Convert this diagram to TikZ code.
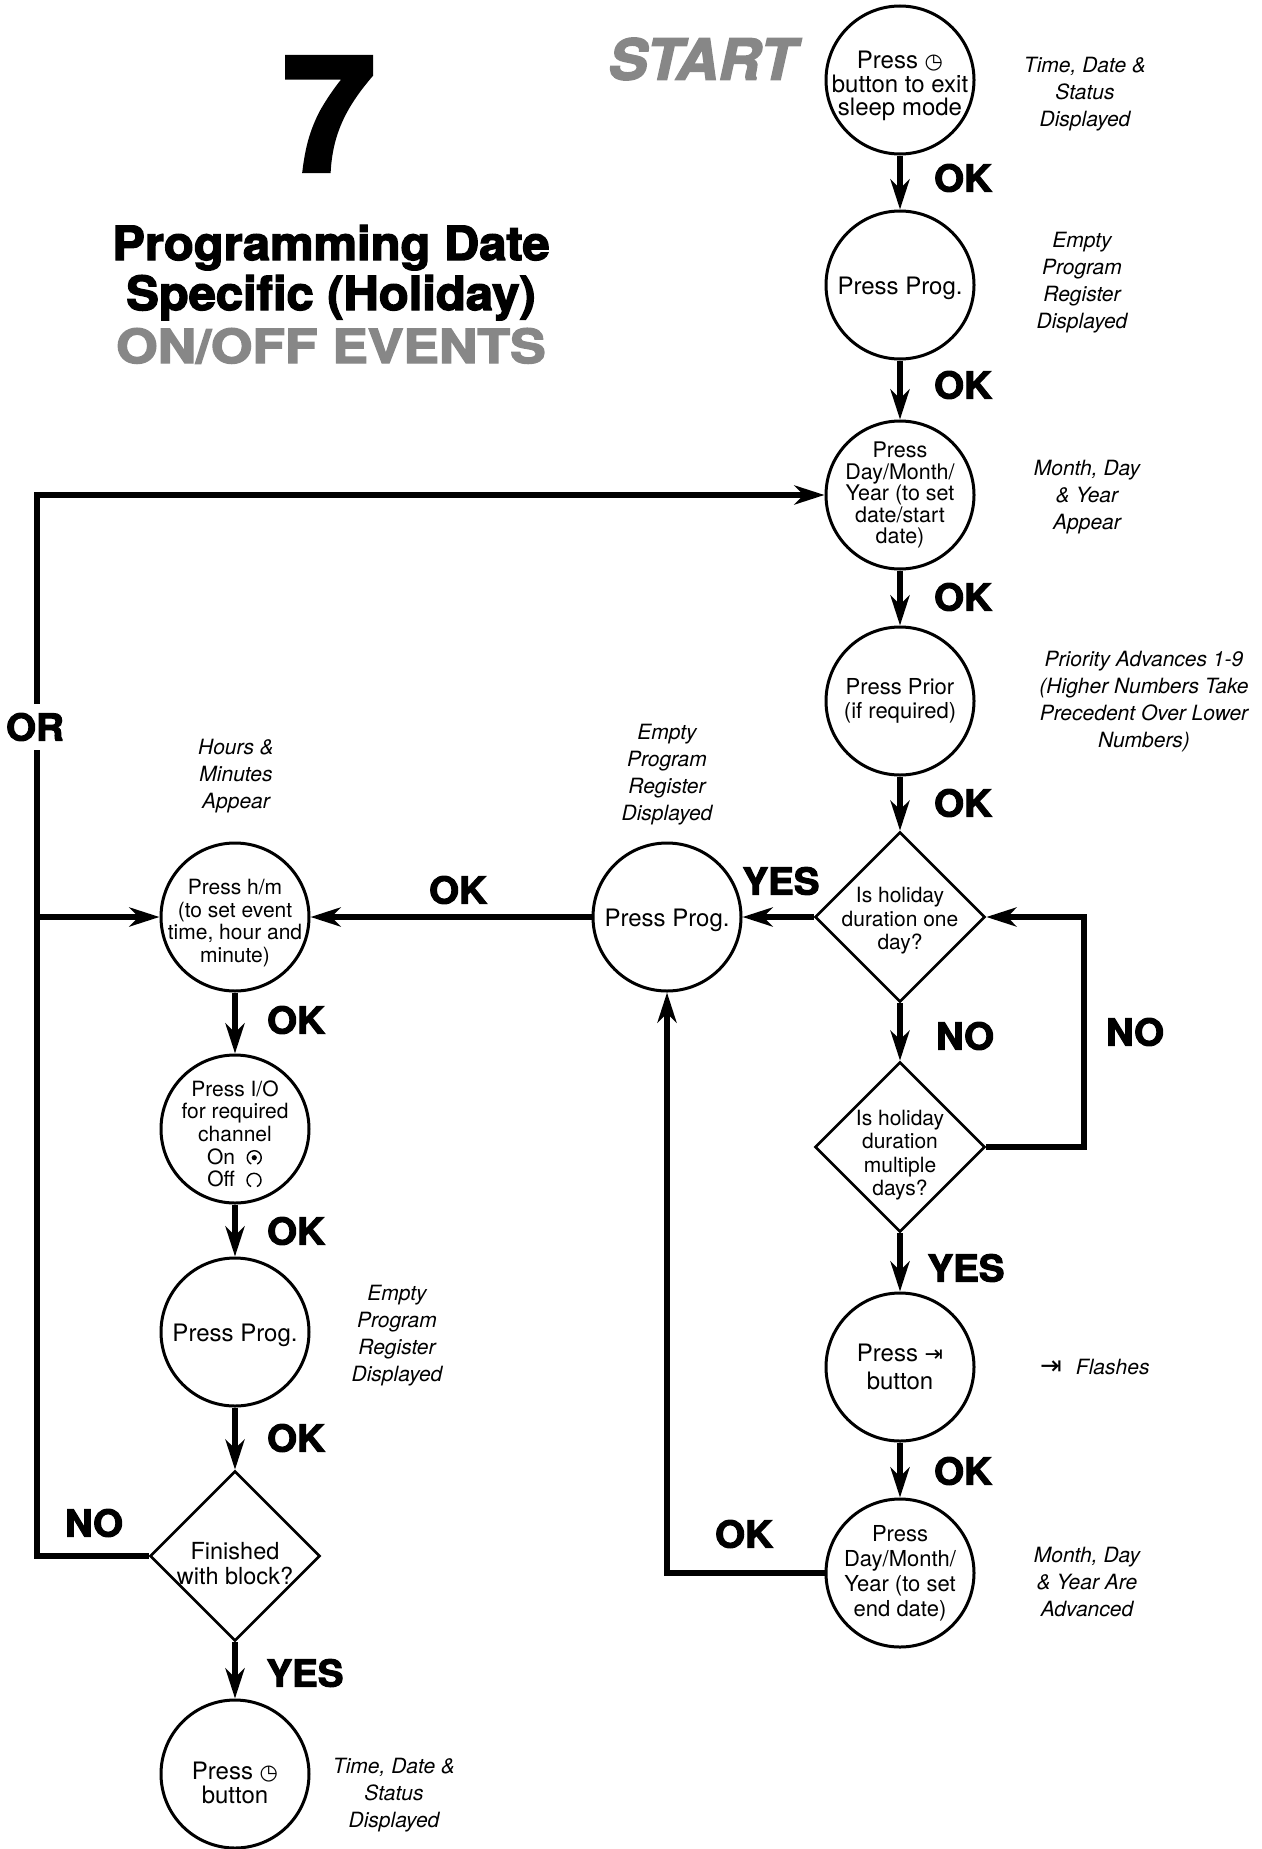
\documentclass[tikz,border=0pt]{standalone}
\usepackage{fontspec}
\usepackage{graphicx}
\setmainfont{TeX Gyre Heros}
\newfontfamily\heavy{TeX Gyre Heros}[BoldFeatures={FakeBold=3,FakeStretch=1.04},BoldItalicFeatures={FakeBold=3,FakeStretch=1.04}]
\newfontfamily\symfont{DejaVu Sans}
\usetikzlibrary{arrows.meta,shapes.geometric}
\definecolor{tgray}{RGB}{135,135,135}
\newcommand{\clk}{{\symfont\fontsize{21}{21}\selectfont ◷}}
\newcommand{\tobar}{{\symfont\fontsize{22}{22}\selectfont ⇥}}
\newcommand{\tobarbig}{{\symfont\fontsize{26}{26}\selectfont ⇥}}
\newcommand{\onsym}{\tikz[baseline=0pt,x=1pt,y=1pt]{\draw[line width=1.4pt] (0,6.5) ++(-65:7) arc[start angle=-65,end angle=245,radius=7]; \fill (0,6.5) circle (2.6);}}
\newcommand{\offsym}{\tikz[baseline=0pt,x=1pt,y=1pt]{\draw[line width=1.4pt] (0,6.5) ++(-65:7) arc[start angle=-65,end angle=245,radius=7];}}
\begin{document}
\begin{tikzpicture}[x=1pt,y=-1pt,
  circ/.style={circle, draw, line width=3pt, minimum size=148pt, inner sep=0pt},
  dia/.style={diamond, draw, line width=2.7pt, minimum width=170pt, minimum height=170pt, inner sep=0pt},
  txt/.style={align=center, font=\fontsize{22}{23.5}\selectfont, inner sep=0pt},
  ann/.style={align=center, font=\itshape\fontsize{21}{27}\selectfont, inner sep=0pt},
  lab/.style={font=\heavy\bfseries\fontsize{37}{37}\selectfont, inner sep=0pt},
  ttl/.style={font=\heavy\bfseries\fontsize{47}{50}\selectfont, inner sep=0pt, anchor=base},
  arr/.style={line width=6pt, -{Stealth[length=30pt,width=19pt,inset=9pt]}},
  ]
\useasboundingbox (0,0) rectangle (1261,1849);

% title
\node[font=\heavy\bfseries\fontsize{160}{160}\selectfont, inner sep=0pt] (seven) at (329,114) {7};
\node[ttl] (t1) at (331,260) {Programming Date};
\node[ttl] (t2) at (331,310) {Specific (Holiday)};
\node[ttl, text=tgray] (t3) at (331,363) {\scalebox{1.09}[1]{ON/OFF EVENTS}};
\node[font=\heavy\bfseries\itshape\fontsize{56}{56}\selectfont, text=tgray, inner sep=0pt] (start) at (702,59) {START};

% right column
\node[circ] (c1) at (900,80) {};
\node[txt, font=\fontsize{24}{23.6}\selectfont] (c1t) at (900,86) {Press \clk\\button to exit\\sleep mode};
\node[circ] (c2) at (900,285) {};
\node[txt, font=\fontsize{24}{24}\selectfont] (c2t) at (900,288) {Press Prog.};
\node[circ] (c3) at (900,495) {};
\node[txt, font=\fontsize{21.5}{21.5}\selectfont] (c3t) at (c3) {Press\\Day/Month/\\Year (to set\\date/start\\date)};
\node[circ] (c4) at (900,701) {};
\node[txt] (c4t) at (c4) {Press Prior\\(if required)};
\node[dia] (d1) at (900,917) {};
\node[txt, font=\fontsize{21}{23.5}\selectfont] (d1t) at (900,921) {Is holiday\\duration one\\day?};
\node[dia] (d2) at (900,1147) {};
\node[txt, font=\fontsize{21}{23.5}\selectfont] (d2t) at (900,1155) {Is holiday\\duration\\multiple\\days?};
\node[circ] (c7) at (900,1367) {};
\node[txt, font=\fontsize{24}{28}\selectfont] (c7t) at (c7) {Press \tobar\\button};
\node[circ] (c8) at (900,1573) {};
\node[txt, font=\fontsize{22}{25}\selectfont] (c8t) at (c8) {Press\\Day/Month/\\Year (to set\\end date)};

% middle
\node[circ] (mid) at (667,917) {};
\node[txt, font=\fontsize{24}{24}\selectfont] (midt) at (667,920) {Press Prog.};

% left column
\node[circ] (hm) at (235,917) {};
\node[txt, font=\fontsize{21}{22.4}\selectfont] (hmt) at (235,923) {Press h/m\\(to set event\\time, hour and\\minute)};
\node[circ] (io) at (235,1129) {};
\node[txt, font=\fontsize{21}{22.6}\selectfont] (iot) at (235,1134) {Press I/O\\for required\\channel\\On\enspace\onsym\\Off\enspace\offsym};
\node[circ] (lp) at (235,1332) {};
\node[txt, font=\fontsize{24}{24}\selectfont] (lpt) at (235,1335) {Press Prog.};
\node[dia] (fin) at (235,1556) {};
\node[txt, font=\fontsize{23.5}{25}\selectfont] (fint) at (235,1564) {Finished\\with block?};
\node[circ] (cb) at (235,1774) {};
\node[txt, font=\fontsize{24}{23.6}\selectfont] (cbt) at (235,1783) {Press \clk\\button};

% annotations
\node[ann] (a1) at (1085,94) {Time, Date \&\\Status\\Displayed};
\node[ann] (a2) at (1082,283) {Empty\\Program\\Register\\Displayed};
\node[ann] (a3) at (1087,497) {Month, Day\\\& Year\\Appear};
\node[ann] (a4) at (1144,702) {Priority Advances 1-9\\(Higher Numbers Take\\Precedent Over Lower\\Numbers)};
\node[ann] (a5) at (236,776) {Hours \&\\Minutes\\Appear};
\node[ann] (a6) at (667,775) {Empty\\Program\\Register\\Displayed};
\node[ann] (a7) at (397,1336) {Empty\\Program\\Register\\Displayed};
\node[ann, anchor=west] (a8) at (1040,1367) {{\upshape\tobarbig}\hspace{14pt}Flashes};
\node[ann] (a9) at (1087,1582) {Month, Day\\\& Year Are\\Advanced};
\node[ann] (a10) at (394,1795) {Time, Date \&\\Status\\Displayed};

% connectors
\draw[arr] (c1.south) -- (c2.north);
\draw[arr] (c2.south) -- (c3.north);
\draw[arr] (c3.south) -- (c4.north);
\draw[arr] (c4.south) -- (d1.north);
\draw[arr] (d1.south) -- (d2.north);
\draw[arr] (d2.south) -- (c7.north);
\draw[arr] (c7.south) -- (c8.north);
\draw[arr] (d1.west) -- (mid.east);
\draw[arr] (mid.west) -- (hm.east);
\draw[arr] (c8.west) -| (mid.south);
\coordinate (R) at (1084,917);
\draw[arr] (d2.east) -| (R) -- (d1.east);
\draw[arr] (hm.south) -- (io.north);
\draw[arr] (io.south) -- (lp.north);
\draw[arr] (lp.south) -- (fin.north);
\draw[arr] (fin.south) -- (cb.north);
\coordinate (Lt) at (37,495);
\coordinate (Lm) at (37,917);
\draw[arr] (fin.west) -| (Lt) -- (c3.west);
\draw[arr] (Lm) -- (hm.west);

% labels
\node[lab] (ok1) at (963,178) {OK};
\node[lab] (ok2) at (963,385) {OK};
\node[lab] (ok3) at (963,597) {OK};
\node[lab] (ok4) at (963,803) {OK};
\node[lab] (no1) at (965,1036) {NO};
\node[lab] (yes1) at (966,1268) {YES};
\node[lab] (ok5) at (963,1471) {OK};
\node[lab] (no2) at (1135,1032) {NO};
\node[lab] (ok6) at (744,1534) {OK};
\node[lab] (yes2) at (781,881) {YES};
\node[lab] (ok7) at (458,890) {OK};
\node[lab, fill=white, inner xsep=1pt, inner ysep=9pt] (or) at (35,727) {OR};
\node[lab] (ok8) at (296,1020) {OK};
\node[lab] (ok9) at (296,1231) {OK};
\node[lab] (ok10) at (296,1438) {OK};
\node[lab] (yes3) at (305,1673) {YES};
\node[lab] (no3) at (94,1523) {NO};
\end{tikzpicture}
\end{document}
